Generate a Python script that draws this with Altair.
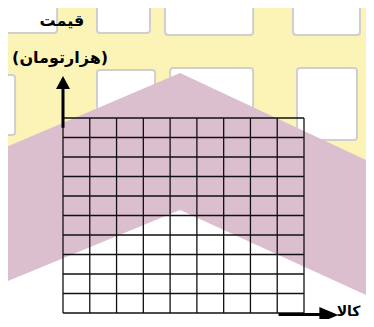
import altair as alt
import pandas as pd

# ---- chart content -------------------------------------------------------
N_COLS = 9          # grid columns (کالا)
N_ROWS = 10         # grid rows (قیمت)
Y_TITLE_1 = "قیمت"
Y_TITLE_2 = "(هزارتومان)"
X_TITLE = "کالا"

# ---- faint background watermark (grid units) ------------------------------
YELLOW_X = [-3.0]
YELLOW_X2 = [12.0]
YELLOW_Y = [7.0]
YELLOW_Y2 = [16.6]
WIN_X = [-3.0, 1.27, 1.27, -3.0, 3.81, 4.0, 8.59, 8.74]
WIN_X2 = [-0.22, 3.25, 3.44, -1.79, 7.10, 7.10, 11.09, 10.98]
WIN_Y = [14.36, 14.36, 9.64, 9.13, 14.26, 10.15, 14.26, 8.87]
WIN_Y2 = [16.6, 16.6, 12.46, 12.2, 16.6, 12.56, 16.6, 12.56]
CHEV_X = [-3.0, 4.37, 12.0]
CHEV_TOP = [8.0, 12.31, 7.40]
CHEV_BOT = [1.10, 5.28, 0.50]

FONT = "DejaVu Sans"

xs = alt.Scale(domain=[0, N_COLS], nice=False, zero=False)
ys = alt.Scale(domain=[0, N_ROWS], nice=False, zero=False)

yellow = alt.Chart(pd.DataFrame({"x": YELLOW_X, "x2": YELLOW_X2, "y": YELLOW_Y, "y2": YELLOW_Y2})).mark_rect(
    color="#fbf4b6"
).encode(
    x=alt.X("x:Q", scale=xs, axis=None), x2="x2:Q",
    y=alt.Y("y:Q", scale=ys, axis=None), y2="y2:Q",
)
windows = alt.Chart(pd.DataFrame({"x": WIN_X, "x2": WIN_X2, "y": WIN_Y, "y2": WIN_Y2})).mark_rect(
    fill="white", stroke="#cfcfcf", strokeWidth=2, cornerRadius=3
).encode(
    x=alt.X("x:Q", scale=xs, axis=None), x2="x2:Q",
    y=alt.Y("y:Q", scale=ys, axis=None), y2="y2:Q",
)
chevron = alt.Chart(pd.DataFrame({"x": CHEV_X, "top": CHEV_TOP, "bot": CHEV_BOT})).mark_area(
    color="#dcbfcf", interpolate="linear"
).encode(
    x=alt.X("x:Q", scale=xs, axis=None),
    y=alt.Y("top:Q", scale=ys, axis=None), y2="bot:Q",
)

# ---- grid -----------------------------------------------------------------
vlines = pd.DataFrame({"x": list(range(N_COLS + 1)), "y0": 0, "y1": N_ROWS})
hlines = pd.DataFrame({"y": list(range(N_ROWS + 1)), "x0": 0, "x1": N_COLS})
vgrid = alt.Chart(vlines).mark_rule(color="#111111", strokeWidth=1.3).encode(
    x=alt.X("x:Q", scale=xs, axis=None),
    y=alt.Y("y0:Q", scale=ys, axis=None), y2="y1:Q",
)
hgrid = alt.Chart(hlines).mark_rule(color="#111111", strokeWidth=1.3).encode(
    y=alt.Y("y:Q", scale=ys, axis=None),
    x=alt.X("x0:Q", scale=xs, axis=None), x2="x1:Q",
)

# ---- axis arrows ----------------------------------------------------------
yarrow_line = alt.Chart(pd.DataFrame({"x": [0], "y0": [9.5], "y1": [11.6]})).mark_rule(
    color="black", strokeWidth=3
).encode(
    x=alt.X("x:Q", scale=xs, axis=None),
    y=alt.Y("y0:Q", scale=ys, axis=None), y2="y1:Q",
)
yarrow_head = alt.Chart(pd.DataFrame({"x": [0], "y": [11.82]})).mark_point(
    shape="M0,-0.93L1,0.93L-1,0.93Z", filled=True, color="black", opacity=1, size=196
).encode(
    x=alt.X("x:Q", scale=xs, axis=None),
    y=alt.Y("y:Q", scale=ys, axis=None),
)
xarrow_line = alt.Chart(pd.DataFrame({"x0": [8.05], "x1": [9.65], "y": [-0.08]})).mark_rule(
    color="black", strokeWidth=3
).encode(
    x=alt.X("x0:Q", scale=xs, axis=None), x2="x1:Q",
    y=alt.Y("y:Q", scale=ys, axis=None),
)
xarrow_head = alt.Chart(pd.DataFrame({"x": [9.93], "y": [-0.1]})).mark_point(
    shape="M-1,-0.84L1,0L-1,0.84Z", filled=True, color="black", opacity=1, size=361
).encode(
    x=alt.X("x:Q", scale=xs, axis=None),
    y=alt.Y("y:Q", scale=ys, axis=None),
)

# ---- titles -----------------------------------------------------------------
ytitle = alt.Chart(pd.DataFrame({"x": [-0.04, -0.11], "y": [14.97, 13.08], "t": [Y_TITLE_1, Y_TITLE_2]})).mark_text(
    font=FONT, fontWeight="bold", fontSize=16, color="black", align="center", baseline="middle"
).encode(
    x=alt.X("x:Q", scale=xs, axis=None),
    y=alt.Y("y:Q", scale=ys, axis=None),
    text="t:N",
)
xtitle = alt.Chart(pd.DataFrame({"x": [10.22], "y": [0.05], "t": [X_TITLE]})).mark_text(
    font=FONT, fontWeight="bold", fontSize=14, color="black", align="left", baseline="middle"
).encode(
    x=alt.X("x:Q", scale=xs, axis=None),
    y=alt.Y("y:Q", scale=ys, axis=None),
    text="t:N",
)

chart = alt.layer(
    yellow, windows, chevron, vgrid, hgrid,
    yarrow_line, yarrow_head, xarrow_line, xarrow_head, ytitle, xtitle,
).properties(
    width=241,
    height=195,
    autosize=alt.AutoSizeParams(type="none"),
    padding={"left": 55, "top": 110, "right": 62, "bottom": 6},
    background="white",
).configure_view(stroke=None)

chart.save("out.html", embed_options={"renderer": "svg", "actions": False})
